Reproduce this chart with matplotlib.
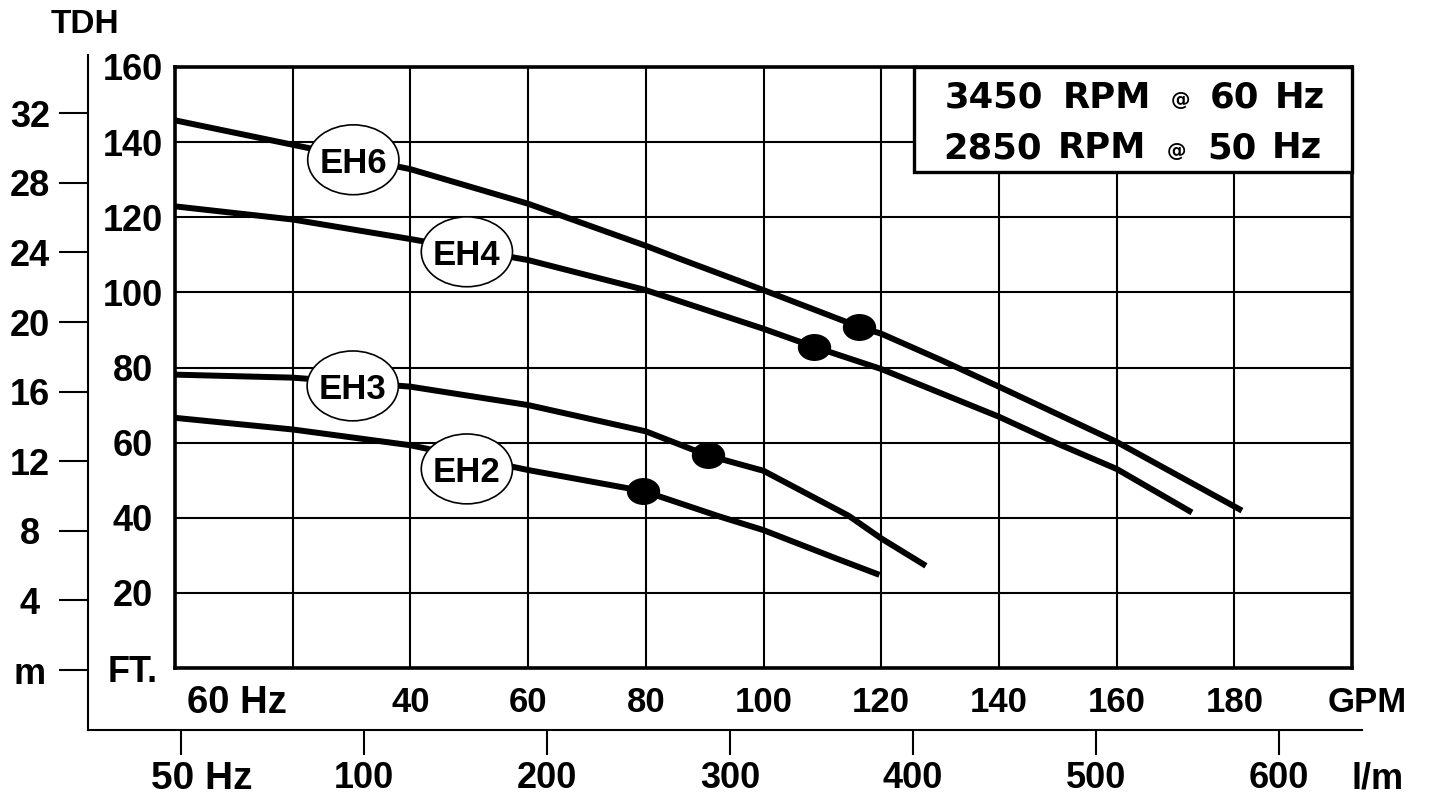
import matplotlib
matplotlib.use('Agg')
import matplotlib.pyplot as plt
from matplotlib.patches import Ellipse, Rectangle
from matplotlib.path import Path
from matplotlib.transforms import Affine2D, ScaledTranslation

plt.rcParams['font.family'] = ['Liberation Sans', 'DejaVu Sans']

W, H, DPI = 1430, 795, 100

# ---------------- data ----------------
eh6_gpm = [0, 20, 40, 60, 80, 86, 100, 116.3, 120, 130, 140, 160, 181.3]
eh6_ft = [145.8, 139.3, 132.8, 123.6, 112.4, 108.8, 100.6, 90.8, 89.0, 82.1, 74.9, 60.2, 41.9]

eh4_gpm = [0, 20, 40, 60, 80, 100, 108.6, 120, 140, 150, 160, 172.8]
eh4_ft = [122.9, 119.4, 114.2, 108.6, 100.6, 90.3, 85.5, 79.6, 66.9, 59.7, 53.0, 41.4]

eh3_gpm = [0, 20, 40, 60, 80, 90.5, 100, 114.5, 120, 127.6]
eh3_ft = [78.1, 77.3, 74.9, 70.0, 63.0, 56.6, 52.5, 40.5, 34.5, 27.2]

eh2_gpm = [0, 20, 40, 60, 79.6, 92.6, 100, 112.3, 119.7]
eh2_ft = [66.6, 63.5, 59.3, 52.7, 47.1, 40.3, 36.7, 29.2, 24.8]

curve_names = ['EH6', 'EH4', 'EH3', 'EH2']
bep_gpm = [116.3, 108.6, 90.5, 79.6]
bep_ft = [90.8, 85.5, 56.6, 47.1]
label_gpm = [30.3, 49.6, 30.2, 49.6]
label_ft = [135.3, 110.8, 75.1, 53.0]

gpm_ticks = [0, 20, 40, 60, 80, 100, 120, 140, 160, 180, 200]
gpm_labels = ['60 Hz', '', '40', '60', '80', '100', '120', '140', '160', '180', '']
ft_ticks = [0, 20, 40, 60, 80, 100, 120, 140, 160]
ft_labels = ['FT.', '20', '40', '60', '80', '100', '120', '140', '160']
m_ticks = [0, 4, 8, 12, 16, 20, 24, 28, 32]
m_labels = ['m', '4', '8', '12', '16', '20', '24', '28', '32']
lpm_ticks = [0, 100, 200, 300, 400, 500, 600]
lpm_labels = ['50 Hz', '100', '200', '300', '400', '500', '600']

speed_lines = [('3450', 'RPM', '60', 'Hz'), ('2850', 'RPM', '50', 'Hz')]

# ---------------- figure ----------------
fig = plt.figure(figsize=(W / DPI, H / DPI), dpi=DPI)
fig.patch.set_facecolor('white')

def fx(p):
    return p / W

def fy(p):
    return 1 - p / H

px2pt = 72.0 / DPI

# outer axis (metres / litres per minute)
L2, R2, T2, B2 = 88, 1362, 55, 730
ax2 = fig.add_axes([fx(L2), fy(B2), (R2 - L2) / W, (B2 - T2) / H])
ax2.patch.set_visible(False)
for s in ['top', 'right']:
    ax2.spines[s].set_visible(False)
for s in ['left', 'bottom']:
    ax2.spines[s].set_linewidth(1.5)
lpm_px0, lpm_scale = 181, 1.83
ax2.set_xlim((L2 - lpm_px0) / lpm_scale, (R2 - lpm_px0) / lpm_scale)
m_px0, m_scale = 670, 17.4
ax2.set_ylim((m_px0 - B2) / m_scale, (m_px0 - T2) / m_scale)
ax2.set_xticks(lpm_ticks)
ax2.set_xticklabels(lpm_labels)
ax2.set_yticks(m_ticks)
ax2.set_yticklabels(m_labels)
ax2.tick_params(axis='y', direction='out', length=29 * px2pt, width=1.5,
                pad=29 * px2pt, labelsize=26)
ax2.tick_params(axis='x', direction='out', length=25 * px2pt, width=1.5,
                pad=20 * px2pt, labelsize=26)
for lbl in ax2.get_yticklabels():
    lbl.set_horizontalalignment('center')
    lbl.set_fontweight('bold')
for lbl in ax2.get_xticklabels():
    lbl.set_verticalalignment('center_baseline')
    lbl.set_fontweight('bold')
ax2.set_zorder(0)

# main axes
L, R, T, B = 175, 1352, 67, 668
ax = fig.add_axes([fx(L), fy(B), (R - L) / W, (B - T) / H])
ax.set_zorder(1)
ax.set_xlim(0, 200)
ax.set_ylim(0, 160)
ax.set_xticks(gpm_ticks)
ax.set_xticklabels(gpm_labels)
ax.set_yticks(ft_ticks)
ax.set_yticklabels(ft_labels)
ax.grid(True, color='black', linewidth=1.5)
ax.set_axisbelow(True)
for s in ax.spines.values():
    s.set_linewidth(2.6)
ax.tick_params(axis='y', length=0, pad=42 * px2pt, labelsize=26)
ax.tick_params(axis='x', length=0, pad=31 * px2pt, labelsize=25)
for lbl in ax.get_yticklabels():
    lbl.set_horizontalalignment('center')
    lbl.set_fontweight('bold')
for lbl in ax.get_xticklabels():
    lbl.set_verticalalignment('center_baseline')
    lbl.set_fontweight('bold')

# shift / enlarge the "60 Hz" and "50 Hz" labels like the reference
t0 = ax.xaxis.get_major_ticks()[0].label1
t0.set_fontsize(27.5)
t0.set_transform(t0.get_transform() + ScaledTranslation(62 / DPI, 0, fig.dpi_scale_trans))
t1 = ax2.xaxis.get_major_ticks()[0].label1
t1.set_fontsize(28)
t1.set_transform(t1.get_transform() + ScaledTranslation(21 / DPI, 0, fig.dpi_scale_trans))

# curves
dot_marker = Path.unit_circle().transformed(Affine2D().scale(1.0, 0.8))
curves = [(eh6_gpm, eh6_ft), (eh4_gpm, eh4_ft), (eh3_gpm, eh3_ft), (eh2_gpm, eh2_ft)]
for (xs, ys) in curves:
    ax.plot(xs, ys, color='black', linewidth=4.3, solid_capstyle='butt',
            solid_joinstyle='round', zorder=3)
ax.plot(bep_gpm, bep_ft, linestyle='none', marker=dot_marker, markersize=23,
        color='black', zorder=4)

# curve labels in ellipses
for name, gx, gy in zip(curve_names, label_gpm, label_ft):
    ax.add_patch(Ellipse((gx, gy), width=15.5, height=18.6, facecolor='white',
                         edgecolor='black', linewidth=1.2, zorder=6))
    ax.text(gx, gy, name, ha='center', va='center_baseline', fontsize=25,
            fontweight='bold', zorder=7)

# speed box
ax.add_patch(Rectangle((125.6, 132.1), 200 - 125.6, 160 - 132.1, facecolor='white',
                       edgecolor='black', linewidth=2.4, zorder=8, clip_on=False))
box_font = ['DejaVu Sans']
line_y = [94.5, 145]
piece_x = [(994, 1107, 1180, 1234, 1300), (993, 1102, 1177, 1232, 1297)]
for pieces, yy, xs in zip(speed_lines, line_y, piece_x):
    rpm_num, rpm_txt, hz_num, hz_txt = pieces
    for txt, xx in zip([rpm_num, rpm_txt, hz_num, hz_txt], [xs[0], xs[1], xs[3], xs[4]]):
        fig.text(fx(xx), fy(yy), txt, ha='center', va='center_baseline',
                 fontsize=25.5, fontweight='bold', family=box_font, zorder=10)
    fig.text(fx(xs[2]), fy(yy + 4), '@', ha='center', va='center_baseline',
             fontsize=14, fontweight='bold', family=box_font, zorder=10)

# axis titles
fig.text(fx(85), fy(21), 'TDH', ha='center', va='center_baseline', fontsize=24,
         fontweight='bold')
fig.text(fx(1367), fy(699), 'GPM', ha='center', va='center_baseline', fontsize=25,
         fontweight='bold')
fig.text(fx(1378), fy(775), 'l/m', ha='center', va='center_baseline', fontsize=26,
         fontweight='bold')

fig.savefig('out.png', dpi=DPI, facecolor='white')
